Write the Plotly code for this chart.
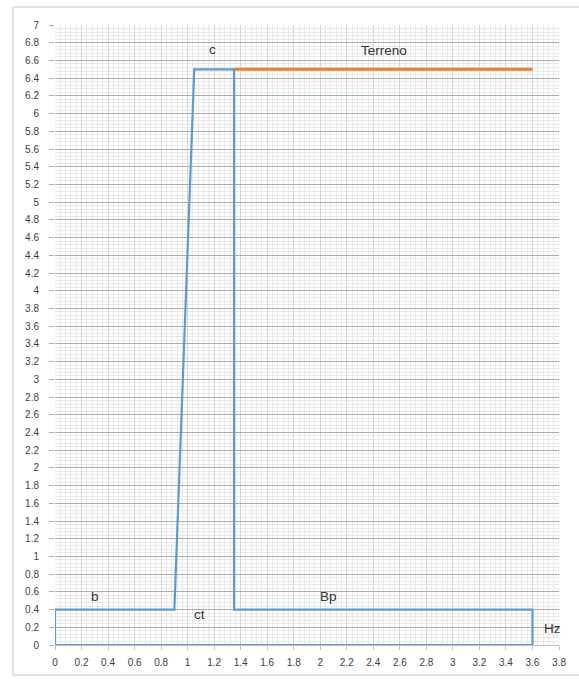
import plotly.graph_objects as go

# Wall section outline (closed polygon): footing + stem
wall_x = [0, 0, 0.9, 1.05, 1.35, 1.35, 3.6, 3.6, 0]
wall_y = [0, 0.4, 0.4, 6.5, 6.5, 0.4, 0.4, 0, 0]

# Ground level behind the wall
terreno_x = [1.35, 3.6]
terreno_y = [6.5, 6.5]

# Dimension labels
label_text = ["c", "Terreno", "b", "ct", "Bp", "Hz"]
label_x = [1.19, 2.48, 0.30, 1.09, 2.06, 3.75]
label_y = [6.72, 6.71, 0.55, 0.35, 0.55, 0.19]

x_ticks = [round(i * 0.2, 1) for i in range(20)]
y_ticks = [round(i * 0.2, 1) for i in range(36)]


def fmt(v):
    s = f"{v:.1f}"
    return s[:-2] if s.endswith(".0") else s


fig = go.Figure()
fig.add_trace(go.Scatter(
    x=wall_x, y=wall_y, mode="lines",
    line=dict(color="#5B9BD5", width=2.2),
    hoverinfo="skip", showlegend=False,
))
fig.add_trace(go.Scatter(
    x=terreno_x, y=terreno_y, mode="lines",
    line=dict(color="#ED7D31", width=3),
    hoverinfo="skip", showlegend=False,
))

for t, x, y in zip(label_text, label_x, label_y):
    fig.add_annotation(
        x=x, y=y, text=t, showarrow=False,
        font=dict(family="Liberation Sans, Arial", size=13.5, color="#333333"),
    )

tick_font = dict(family="Liberation Sans Narrow, Liberation Sans, Arial", size=10, color="#404040")

fig.update_xaxes(
    range=[0, 3.8], tickvals=x_ticks, ticktext=[fmt(v) for v in x_ticks],
    showgrid=True, gridcolor="#d6d6d6", gridwidth=1,
    minor=dict(dtick=0.04, tick0=0, showgrid=True, gridcolor="#e8e8e8", gridwidth=1),
    showline=True, linecolor="#bfbfbf", linewidth=1,
    ticks="outside", ticklen=4, tickcolor="#bfbfbf",
    tickfont=tick_font, ticklabelstandoff=4, zeroline=False,
)
fig.update_yaxes(
    range=[0, 7], tickvals=y_ticks, ticktext=[fmt(v) for v in y_ticks],
    showgrid=True, gridcolor="#ababab", gridwidth=1.3,
    minor=dict(dtick=0.04, tick0=0, showgrid=True, gridcolor="#e8e8e8", gridwidth=1),
    showline=False,
    ticks="outside", ticklen=5, tickcolor="#ababab",
    tickfont=tick_font, ticklabelstandoff=8, zeroline=False,
)

# Light frame around the chart area (open on the right)
frame = dict(type="line", xref="paper", yref="paper",
             line=dict(color="#d9d9d9", width=1.5), layer="below")
fig.add_shape(x0=-0.0833, x1=1.1, y0=1.029, y1=1.029, **frame)
fig.add_shape(x0=-0.0833, x1=-0.0833, y0=-0.0484, y1=1.029, **frame)
fig.add_shape(x0=-0.0833, x1=1.1, y0=-0.0484, y1=-0.0484, **frame)

fig.update_layout(
    width=579, height=679,
    margin=dict(l=55, r=20, t=25, b=34),
    paper_bgcolor="white", plot_bgcolor="white",
    showlegend=False,
)

fig.write_html("out.html")
